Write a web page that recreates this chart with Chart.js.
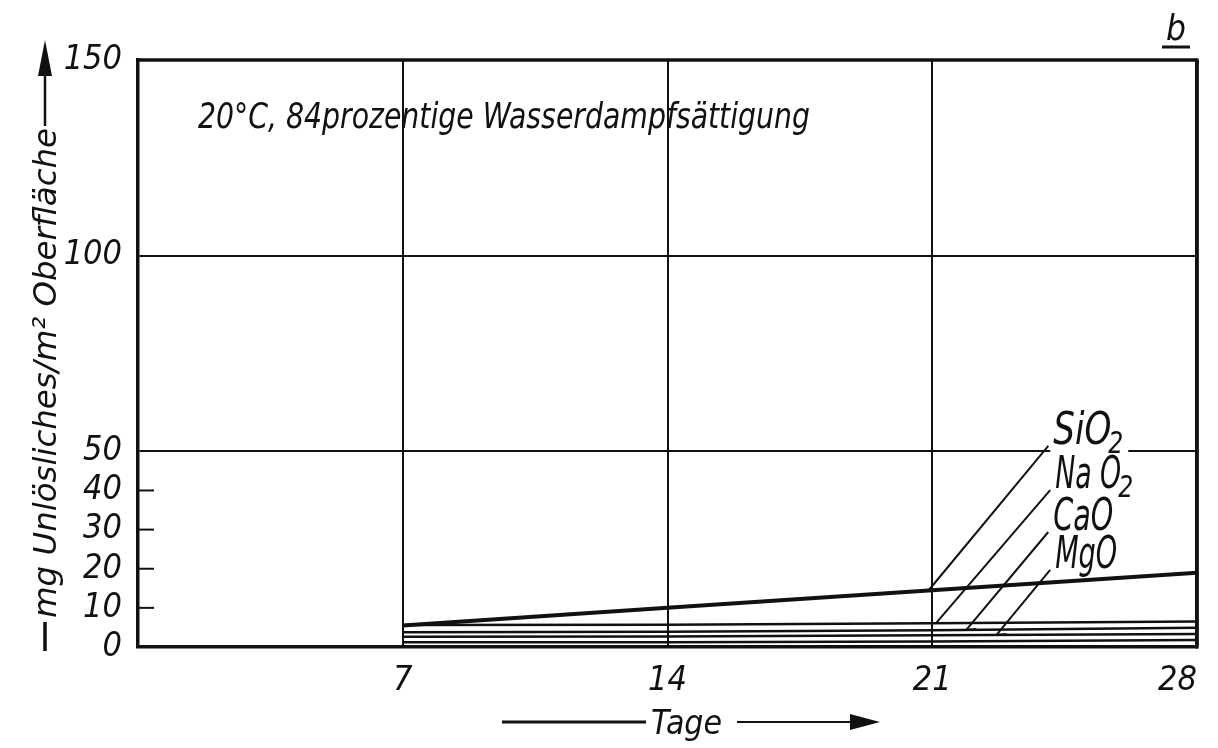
<!DOCTYPE html>
<html>
<head>
<meta charset="utf-8">
<script src="https://cdn.jsdelivr.net/npm/chart.js@4.4.0/dist/chart.umd.min.js"></script>
<style>
  body { margin: 0; background: #fff; }
  canvas { display: block; }
</style>
</head>
<body>
<canvas id="grafico" width="1218" height="748"></canvas>
<script>
// Werte (Tage / mg pro m2)
const tage = [7, 14, 21, 28];
const sio2 = [5.5, 10, 14.5, 19];
const nao2 = [5.6, 5.7, 6.1, 6.5];
const cao = [3.8, 3.9, 4.3, 4.9];
const mgo = [2.6, 2.7, 3.0, 3.3];
const rest = [1.2, 1.2, 1.4, 1.8];
const xTicks = [0, 7, 14, 21, 28];
const yTicks = [0, 10, 20, 30, 40, 50, 100, 150];
const innenTicks = [10, 20, 30, 40];
const gitterY = [50, 100];

const SCHRIFT = "'Liberation Sans Narrow', 'DejaVu Sans Condensed', 'Liberation Sans', sans-serif";
const TINTE = '#111';

function punkte(werte) {
    return tage.map((t, i) => ({ x: t, y: werte[i] }));
}

function wertBei(werte, t) {
    for (let i = 0; i < tage.length - 1; i++) {
        if (t >= tage[i] && t <= tage[i + 1]) {
            const f = (t - tage[i]) / (tage[i + 1] - tage[i]);
            return werte[i] + f * (werte[i + 1] - werte[i]);
        }
    }
    return werte[werte.length - 1];
}

// Text schreiben, horizontal auf Breite w gestaucht
function schreib(ctx, s, x, y, size, w) {
    ctx.save();
    ctx.font = 'italic ' + size + 'px ' + SCHRIFT;
    const m = ctx.measureText(s).width;
    const k = w ? w / m : 1;
    ctx.translate(x, y);
    ctx.scale(k, 1);
    ctx.textAlign = 'left';
    ctx.textBaseline = 'alphabetic';
    ctx.fillStyle = TINTE;
    ctx.fillText(s, 0, 0);
    ctx.restore();
    return m * k;
}

function linie(ctx, x1, y1, x2, y2, lw) {
    ctx.beginPath();
    ctx.lineWidth = lw;
    ctx.moveTo(x1, y1);
    ctx.lineTo(x2, y2);
    ctx.stroke();
}

const beschriftung = [
    { name: 'SiO', sub: '2', werte: sio2, lx: 24.2, ly: 51.9, w: 58, ende: 20.9 },
    { name: 'Na O', sub: '2', werte: nao2, lx: 24.25, ly: 40.6, w: 66, ende: 21.1 },
    { name: 'CaO', werte: cao, lx: 24.2, ly: 29.9, w: 60, ende: 21.9, haken: true },
    { name: 'MgO', werte: mgo, lx: 24.25, ly: 20.2, w: 62, ende: 22.7, haken: true }
];

const deko = {
    id: 'deko',
    afterDraw(chart) {
        const { ctx, chartArea: a, scales: { x, y } } = chart;
        ctx.save();
        ctx.strokeStyle = TINTE;
        ctx.fillStyle = TINTE;
        ctx.lineCap = 'butt';

        // kurze Striche innen an der y-Achse
        innenTicks.forEach(v => {
            const py = y.getPixelForValue(v);
            linie(ctx, a.left, py, a.left + 16, py, 2);
        });

        // Rahmen oben und rechts
        linie(ctx, a.left - 1, a.top, a.right + 1.5, a.top, 3.5);
        linie(ctx, a.right, a.top, a.right, a.bottom + 1.5, 3.5);

        // Stoffbezeichnungen mit Hinweislinien
        beschriftung.forEach(b => {
            const lx = x.getPixelForValue(b.lx);
            const ly = y.getPixelForValue(b.ly);
            if (b.name === 'SiO') {
                ctx.fillStyle = '#fff';
                ctx.fillRect(lx - 3, ly - 36, b.w + 20, 46);
                ctx.fillStyle = TINTE;
            }
            const ex = x.getPixelForValue(b.ende);
            const ey = y.getPixelForValue(wertBei(b.werte, b.ende));
            linie(ctx, lx - 5, ly + 2, ex, ey, 2);
            if (b.haken) linie(ctx, ex, ey, ex + 10, ey - 1, 2);
            const bw = schreib(ctx, b.name, lx, ly, 44, b.w);
            if (b.sub) schreib(ctx, b.sub, lx + bw - 3, ly + 9, 30, 15);
        });

        // Versuchsbedingungen
        schreib(ctx, '20°C, 84prozentige Wasserdampfsättigung', a.left + 60, a.top + 68, 35, 612);

        // y-Achsentitel mit Pfeil
        const ax = 45;
        linie(ctx, ax, a.bottom + 4, ax, a.bottom - 25, 3.5);
        ctx.save();
        ctx.translate(56, a.bottom - 29);
        ctx.rotate(-Math.PI / 2);
        schreib(ctx, 'mg Unlösliches/m² Oberfläche', 0, 0, 32, 490);
        ctx.restore();
        linie(ctx, ax, a.top + 66, ax, a.top + 14, 2.5);
        ctx.beginPath();
        ctx.moveTo(ax, a.top - 20);
        ctx.lineTo(ax - 7, a.top + 16);
        ctx.lineTo(ax + 7, a.top + 16);
        ctx.closePath();
        ctx.fill();

        // x-Achsentitel mit Pfeil
        const ty = 722;
        linie(ctx, 502, ty, 646, ty, 3);
        schreib(ctx, 'Tage', 651, ty + 12, 34, 71);
        linie(ctx, 737, ty, 852, ty, 2);
        ctx.beginPath();
        ctx.moveTo(880, ty);
        ctx.lineTo(850, ty - 8);
        ctx.lineTo(850, ty + 8);
        ctx.closePath();
        ctx.fill();

        // Bildkennung b
        schreib(ctx, 'b', 1166, 40, 36, 20);
        linie(ctx, 1162, 47, 1190, 47, 3);

        ctx.restore();
    }
};

const serie = (werte, breite) => ({
    data: punkte(werte),
    borderColor: TINTE,
    borderWidth: breite,
    pointRadius: 0,
    tension: 0,
    fill: false
});

new Chart(document.getElementById('grafico'), {
    type: 'line',
    data: {
        datasets: [
            serie(sio2, 4),
            serie(nao2, 2.5),
            serie(cao, 2.5),
            serie(mgo, 2.5),
            serie(rest, 2.5)
        ]
    },
    options: {
        responsive: false,
        animation: false,
        devicePixelRatio: 1,
        layout: { padding: { top: 60, right: 21, left: 0, bottom: 0 } },
        plugins: { legend: { display: false }, tooltip: { enabled: false } },
        scales: {
            x: {
                type: 'linear',
                min: 0,
                max: 28,
                afterBuildTicks: s => { s.ticks = xTicks.map(v => ({ value: v })); },
                afterFit: s => { s.height = 101; },
                grid: {
                    drawTicks: false,
                    color: c => (c.tick && c.tick.value === 0) ? 'rgba(0,0,0,0)' : TINTE,
                    lineWidth: c => (c.tick && c.tick.value === 28) ? 3.5 : 2
                },
                border: { display: true, color: TINTE, width: 3.5 },
                ticks: {
                    autoSkip: false,
                    maxRotation: 0,
                    align: 'inner',
                    padding: 14,
                    color: TINTE,
                    font: { family: SCHRIFT, size: 34, style: 'italic' },
                    callback: v => v === 0 ? '' : v
                }
            },
            y: {
                type: 'linear',
                min: 0,
                max: 150,
                afterBuildTicks: s => { s.ticks = yTicks.map(v => ({ value: v })); },
                afterFit: s => { s.width = 138; },
                grid: {
                    drawTicks: false,
                    color: c => (c.tick && gitterY.includes(c.tick.value)) ? TINTE : 'rgba(0,0,0,0)',
                    lineWidth: 2
                },
                border: { display: true, color: TINTE, width: 3.5 },
                ticks: {
                    autoSkip: false,
                    padding: 16,
                    color: TINTE,
                    font: { family: SCHRIFT, size: 34, style: 'italic' }
                }
            }
        }
    },
    plugins: [deko]
});
</script>
</body>
</html>
